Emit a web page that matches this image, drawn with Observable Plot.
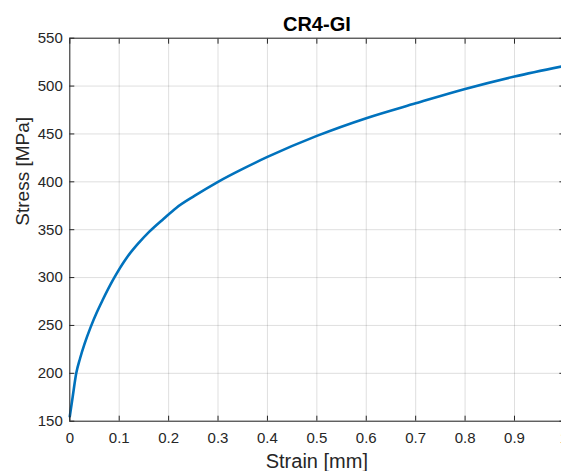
<!DOCTYPE html>
<html><head><meta charset="utf-8">
<script src="https://cdn.jsdelivr.net/npm/d3@7"></script>
<script src="https://cdn.jsdelivr.net/npm/@observablehq/plot@0.6"></script>
<style>html,body{margin:0;padding:0;overflow:hidden;background:#fff}</style>
</head><body><div id="chart"></div>
<script>
const strain = [0, 0.006, 0.013, 0.021, 0.03, 0.042, 0.055, 0.066, 0.088, 0.117, 0.14, 0.161, 0.19, 0.216, 0.253, 0.3, 0.35, 0.4, 0.5, 0.6, 0.7, 0.8, 0.9, 1.0];
const stress = [155, 176, 200, 216, 231, 248, 264, 276, 298, 322, 336.5, 348, 361.5, 373, 385.5, 400, 413.5, 426, 448, 466.5, 482, 497, 510, 521];
const xTicks = [0, 0.1, 0.2, 0.3, 0.4, 0.5, 0.6, 0.7, 0.8, 0.9, 1];
const yTicks = [150, 200, 250, 300, 350, 400, 450, 500, 550];
const title = "CR4-GI";
const xLabel = "Strain [mm]";
const yLabel = "Stress [MPa]";

const data = strain.map((s, i) => ({strain: s, stress: stress[i]}));
const ink = "#262626";
const fmt = d3.format("~g");
const blank = () => "";

const chart = Plot.plot({
  width: 565, height: 471,
  marginLeft: 69.3, marginRight: 1.6, marginTop: 37.7, marginBottom: 50.3,
  style: {fontFamily: "'Liberation Sans', Arial, Helvetica, sans-serif", background: "#fff", color: ink, maxWidth: "none"},
  x: {domain: [0, 1]},
  y: {domain: [150, 550]},
  marks: [
    Plot.gridX(xTicks, {stroke: ink, strokeOpacity: 0.15}),
    Plot.gridY(yTicks, {stroke: ink, strokeOpacity: 0.15}),
    Plot.line(data, {x: "strain", y: "stress", stroke: "#0072BD", strokeWidth: 2.6, curve: "monotone-x"}),
    Plot.axisX(xTicks, {anchor: "bottom", tickSize: 0, tickPadding: 11.5, tickFormat: fmt, fontSize: 15, label: null}),
    Plot.axisX(xTicks, {anchor: "bottom", tickSize: -5, tickFormat: blank, label: null}),
    Plot.axisX(xTicks, {anchor: "top", tickSize: -5, tickFormat: blank, label: null}),
    Plot.axisY(yTicks, {anchor: "left", tickSize: 0, tickPadding: 7, tickFormat: fmt, fontSize: 15, label: null}),
    Plot.axisY(yTicks, {anchor: "left", tickSize: -5, tickFormat: blank, label: null}),
    Plot.axisY(yTicks, {anchor: "right", tickSize: -5, tickFormat: blank, label: null}),
    Plot.frame({stroke: ink}),
    Plot.text([title], {frameAnchor: "top", dy: -7.7, lineAnchor: "bottom", fontWeight: "bold", fontSize: 20, fill: "#000"}),
    Plot.text([xLabel], {frameAnchor: "bottom", dy: 47, lineAnchor: "bottom", fontSize: 20, fill: ink}),
    Plot.text([yLabel], {frameAnchor: "left", dx: -40.8, dy: -4, rotate: -90, lineAnchor: "bottom", fontSize: 19, fill: ink})
  ]
});
document.getElementById("chart").appendChild(chart);
</script>
</body></html>
